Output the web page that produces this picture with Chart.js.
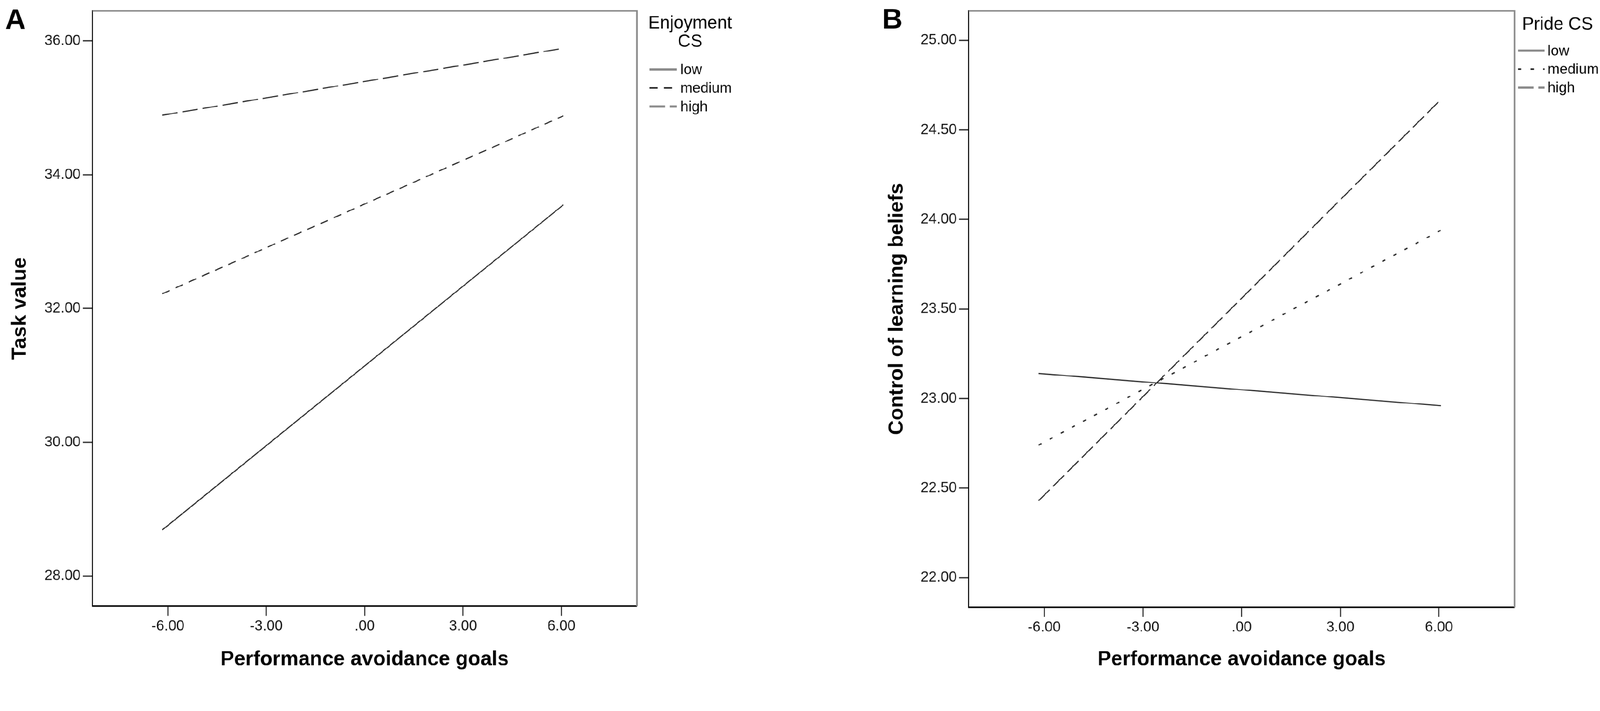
<!DOCTYPE html>
<html>
<head>
<meta charset="utf-8">
<script src="https://cdn.jsdelivr.net/npm/chart.js@4.4.1/dist/chart.umd.min.js"></script>
<style>
html, body { margin: 0; padding: 0; background: #fff; overflow: hidden; }
#page { position: absolute; left: 0; top: 0; width: 4328px; height: 1821px; transform-origin: 0 0; }
canvas { position: absolute; top: 0; }
#chartA { left: 0px; }
#chartB { left: 2372px; }
</style>
</head>
<body>
<div id="page">
<canvas id="chartA" width="2300" height="1821"></canvas>
<canvas id="chartB" width="1956" height="1821"></canvas>
</div>
<script>
// predictor range (line end points) and x ticks, shared by both panels
const goalsX = [-6.17, 6.06];
const goalsTicks = [-6, -3, 0, 3, 6];

// panel A: task value by enjoyment CS
const enjoymentLevels = ["low", "medium", "high"];
const taskValueLow = [28.69, 33.55];
const taskValueMedium = [32.22, 34.88];
const taskValueHigh = [34.89, 35.89];
const taskValueTicks = [28, 30, 32, 34, 36];

// panel B: control of learning beliefs by pride CS
const prideLevels = ["low", "medium", "high"];
const controlLow = [23.14, 22.96];
const controlMedium = [22.74, 23.94];
const controlHigh = [22.43, 24.67];
const controlTicks = [22, 22.5, 23, 23.5, 24, 24.5, 25];

const FONT = "'Liberation Sans', Arial, sans-serif";
Chart.defaults.font.family = FONT;
Chart.defaults.color = "#111";

// the layout is written for a 4328x1821 page; fit it to the real viewport
const fit = Math.min(window.innerWidth / 4328, window.innerHeight / 1821);
document.getElementById("page").style.transform = "scale(" + fit + ")";
const pixelRatio = fit * (window.devicePixelRatio || 1);

function tickLabel(v) {
    return Number(v).toFixed(2).replace(/^(-?)0\./, "$1.");
}

// SPSS style frame: grey top and right edges
const framePlugin = {
    id: "frame",
    afterDraw(chart) {
        const a = chart.chartArea;
        const ctx = chart.ctx;
        ctx.save();
        ctx.strokeStyle = "#8a8a8a";
        ctx.lineWidth = 4.5;
        ctx.beginPath();
        ctx.moveTo(a.left, a.top);
        ctx.lineTo(a.right, a.top);
        ctx.lineTo(a.right, a.bottom);
        ctx.stroke();
        ctx.restore();
    }
};

const legendPlugin = {
    id: "spssLegend",
    afterDraw(chart, args, opts) {
        const ctx = chart.ctx;
        ctx.save();
        ctx.fillStyle = "#000";
        ctx.font = "48px " + FONT;
        ctx.textAlign = "center";
        ctx.textBaseline = "alphabetic";
        opts.title.forEach((line, i) => ctx.fillText(line, opts.centerX, opts.titleY + i * 50));
        ctx.font = "39px " + FONT;
        ctx.textAlign = "left";
        ctx.textBaseline = "middle";
        chart.data.datasets.forEach((ds, i) => {
            const y = opts.itemY + i * opts.itemGap;
            ctx.strokeStyle = ds.legendColor;
            ctx.lineWidth = ds.legendWidth;
            ctx.setLineDash(ds.borderDash);
            ctx.beginPath();
            ctx.moveTo(opts.lineX0, y);
            ctx.lineTo(opts.lineX1, y);
            ctx.stroke();
            ctx.setLineDash([]);
            ctx.fillText(ds.label, opts.textX, y + 2);
        });
        ctx.restore();
    }
};

const letterPlugin = {
    id: "panelLetter",
    afterDraw(chart, args, opts) {
        const ctx = chart.ctx;
        ctx.save();
        ctx.fillStyle = "#000";
        ctx.font = "bold 77px " + FONT;
        ctx.textAlign = "left";
        ctx.textBaseline = "alphabetic";
        ctx.fillText(opts.text, opts.x, opts.y);
        ctx.restore();
    }
};

function makeChart(id, cfg) {
    const datasets = cfg.levels.map((lvl, k) => ({
        label: lvl,
        data: goalsX.map((x, i) => ({ x: x, y: cfg.values[k][i] })),
        borderColor: "#262626",
        borderWidth: cfg.widths[k],
        borderDash: cfg.dashes[k],
        pointRadius: 0,
        tension: 0,
        fill: false,
        legendColor: k === 1 ? "#111" : "#8a8a8a",
        legendWidth: k === 1 ? 3.5 : 6
    }));
    return new Chart(document.getElementById(id), {
        type: "line",
        data: { datasets: datasets },
        options: {
            responsive: false,
            animation: false,
            devicePixelRatio: pixelRatio,
            layout: { padding: { top: 12, right: cfg.padRight, left: 0, bottom: 0 } },
            plugins: {
                legend: { display: false },
                tooltip: { enabled: false },
                spssLegend: cfg.legend,
                panelLetter: cfg.letter
            },
            scales: {
                x: {
                    type: "linear",
                    min: -8.3,
                    max: 8.3,
                    afterFit: s => { s.height = cfg.xAxisHeight; },
                    afterBuildTicks: s => { s.ticks = goalsTicks.map(v => ({ value: v })); },
                    ticks: { callback: tickLabel, padding: 5, color: "#111", font: { size: 39 }, maxRotation: 0, autoSkip: false },
                    grid: { display: true, drawOnChartArea: false, drawTicks: true, tickLength: 26, tickWidth: 2.5, tickColor: "#111" },
                    border: { display: true, color: "#000", width: 4 },
                    title: { display: true, text: "Performance avoidance goals", color: "#000",
                             font: { size: 55, weight: "bold" }, padding: { top: 0, bottom: 4 } }
                },
                y: {
                    type: "linear",
                    min: cfg.yMin,
                    max: cfg.yMax,
                    afterFit: s => { s.width = cfg.yAxisWidth; },
                    afterBuildTicks: s => { s.ticks = cfg.yTicks.map(v => ({ value: v })); },
                    ticks: { callback: tickLabel, padding: 6, color: "#111", font: { size: 39 }, autoSkip: false },
                    grid: { display: true, drawOnChartArea: false, drawTicks: true, tickLength: 26, tickWidth: 3.5, tickColor: "#333" },
                    border: { display: true, color: "#000", width: 3 },
                    title: { display: true, text: cfg.yTitle, color: "#000",
                             font: { size: 55, weight: "bold" }, padding: { top: 22, bottom: 0 } }
                }
            }
        },
        plugins: [framePlugin, legendPlugin, letterPlugin]
    });
}

makeChart("chartA", {
    levels: enjoymentLevels,
    values: [taskValueLow, taskValueMedium, taskValueHigh],
    dashes: [[], [22, 17], [42, 13]],
    widths: [3, 3, 3],
    yMin: 27.55, yMax: 36.45, yTicks: taskValueTicks,
    yTitle: "Task value",
    yAxisWidth: 250, xAxisHeight: 181, padRight: 578,
    letter: { text: "A", x: 14, y: 78 },
    legend: { title: ["Enjoyment", "CS"], centerX: 1866, titleY: 77,
              itemY: 188, itemGap: 50, lineX0: 1756, lineX1: 1830, textX: 1840 }
});

makeChart("chartB", {
    levels: prideLevels,
    values: [controlLow, controlMedium, controlHigh],
    dashes: [[], [9, 25], [42, 13]],
    widths: [3, 3.5, 3],
    yMin: 21.835, yMax: 25.164, yTicks: controlTicks,
    yTitle: "Control of learning beliefs",
    yAxisWidth: 248, xAxisHeight: 178, padRight: 231,
    letter: { text: "B", x: 14, y: 77 },
    legend: { title: ["Pride CS"], centerX: 1841, titleY: 80,
              itemY: 137, itemGap: 50, lineX0: 1734, lineX1: 1806, textX: 1814 }
});
</script>
</body>
</html>
